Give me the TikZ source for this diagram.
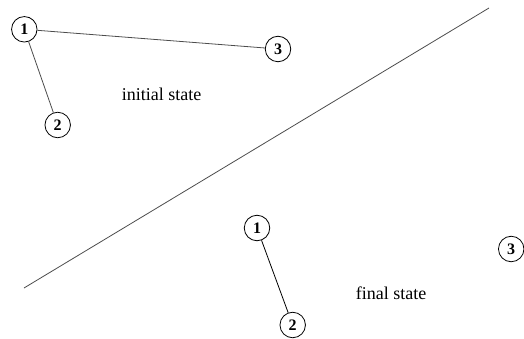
\documentclass[tikz,border=0pt]{standalone}
\usepackage{fontspec}
\setmainfont{Liberation Serif}
\begin{document}
\begin{tikzpicture}[x=1pt,y=-1pt,
  ball/.style={circle,draw=black,line width=0.8pt,minimum size=25.5pt,inner sep=0pt,
    font=\fontsize{16}{16}\selectfont\bfseries},
  link/.style={draw=black!70,line width=0.8pt},
  caption/.style={font=\fontsize{18}{18}\selectfont}]
\useasboundingbox (0,0) rectangle (524,339);
% initial state
\node[ball] (i1) at (24.3,29.3) {1};
\node[ball] (i2) at (57.7,125) {2};
\node[ball] (i3) at (278,49) {3};
\draw[link] (i1) -- (i3);
\draw[link] (i1) -- (i2);
\node[caption] (ti) at (161.5,94) {initial state};
% dividing line
\coordinate (d1) at (24,288);
\coordinate (d2) at (489,8);
\draw[link] (d1) -- (d2);
% final state
\node[ball] (f1) at (257,228) {1};
\node[ball] (f2) at (292.7,325) {2};
\node[ball] (f3) at (511.2,249) {3};
\draw[link,draw=black] (f1) -- (f2);
\node[caption] (tf) at (391,293.5) {final state};
\end{tikzpicture}
\end{document}
